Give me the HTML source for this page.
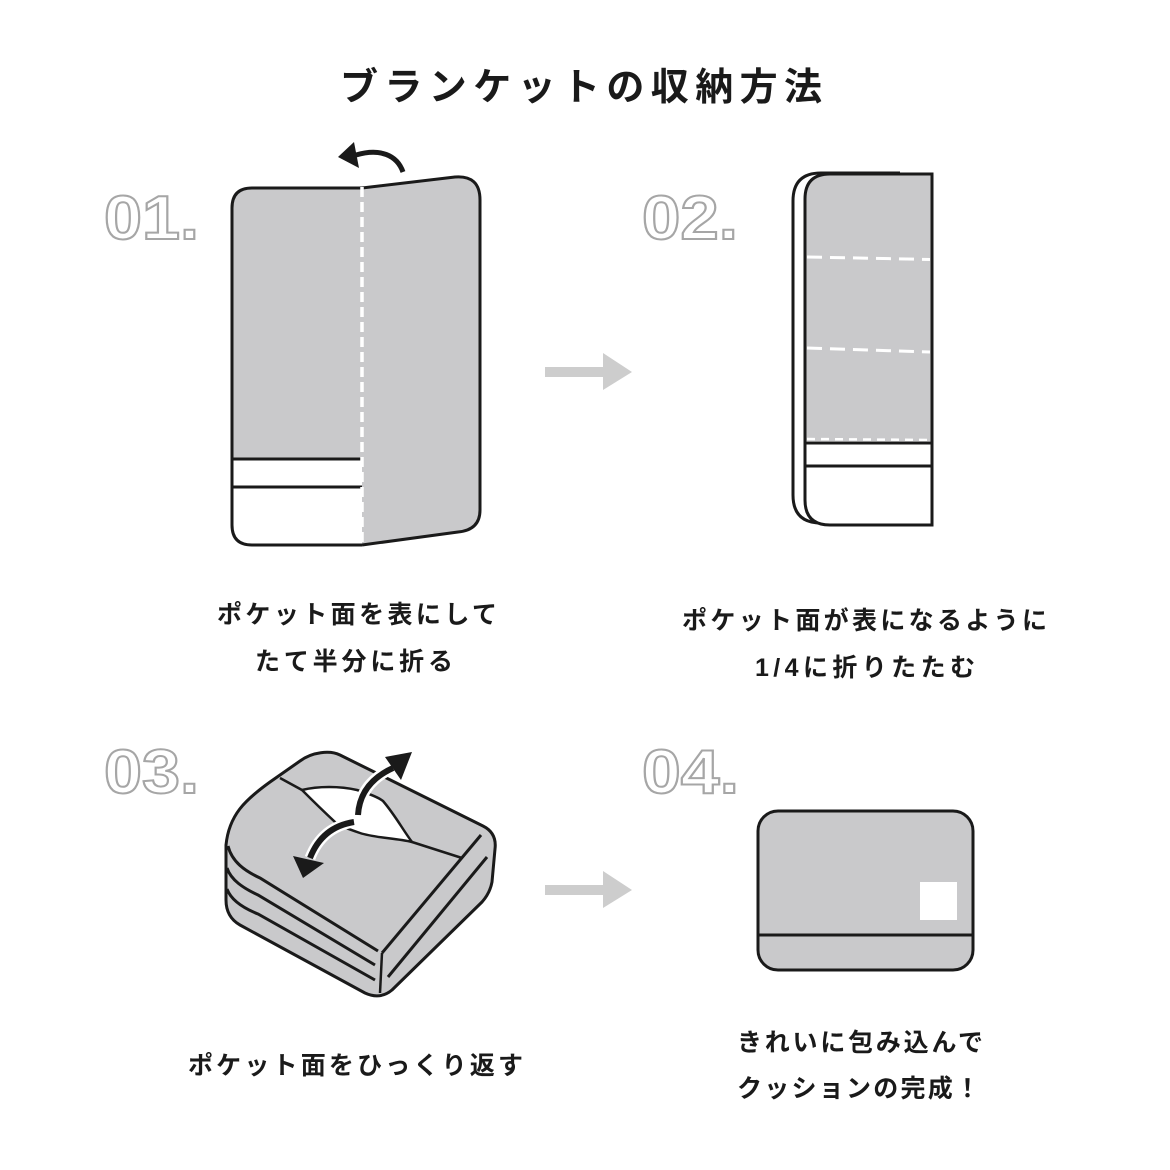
<!DOCTYPE html>
<html>
<head>
<meta charset="utf-8">
<style>
  html, body { margin:0; padding:0; background:#fff; }
  body { width:1170px; height:1170px; overflow:hidden; }
  svg { display:block; }
  .t { font-family: "Liberation Sans", "Noto Sans CJK JP", sans-serif; fill:#1a1a1a; }
  .cap { font-size:25px; font-weight:700; }
  .num { font-family: "Liberation Sans", sans-serif; font-size:62px; font-weight:700; fill:#fff; stroke:#a6a6a6; stroke-width:2; }
</style>
</head>
<body>
<svg width="1170" height="1170" viewBox="0 0 1170 1170" xmlns="http://www.w3.org/2000/svg">
  <!-- Title -->
  <text class="t" x="340" y="100" font-size="38" font-weight="700" textLength="482" lengthAdjust="spacing">ブランケットの収納方法</text>

  <!-- Step numbers -->
  <text class="num" x="104" y="239" textLength="95" lengthAdjust="spacingAndGlyphs">01.</text>
  <text class="num" x="642" y="239" textLength="96" lengthAdjust="spacingAndGlyphs">02.</text>
  <text class="num" x="104" y="793" textLength="95" lengthAdjust="spacingAndGlyphs">03.</text>
  <text class="num" x="642" y="793" textLength="97" lengthAdjust="spacingAndGlyphs">04.</text>

  <!-- ===== STEP 01 ===== -->
  <path d="M362,188 L252,188 Q232,188 232,208 L232,525 Q232,545 252,545 L362,545 Z" fill="#c9c9cb"/>
  <path d="M232,459 L362,459 L362,545 L252,545 Q232,545 232,525 Z" fill="#fff"/>
  <path d="M362,188 L252,188 Q232,188 232,208 L232,525 Q232,545 252,545 L362,545" fill="none" stroke="#1a1a1a" stroke-width="3"/>
  <line x1="232" y1="459" x2="362" y2="459" stroke="#1a1a1a" stroke-width="3"/>
  <line x1="232" y1="487" x2="362" y2="487" stroke="#1a1a1a" stroke-width="3"/>
  <!-- right panel -->
  <path d="M362,188 L455,177 Q480,175 480,200 L480,510 Q480,530 458,532 L362,545 Z" fill="#c9c9cb"/>
  <path d="M362,188 L455,177 Q480,175 480,200 L480,510 Q480,530 458,532 L362,545" fill="none" stroke="#1a1a1a" stroke-width="3" stroke-linejoin="round"/>
  <!-- fold dashed -->
  <line x1="362" y1="187" x2="362" y2="547" stroke="#fff" stroke-width="3.5" stroke-dasharray="10 5"/>
  <!-- curved arrow -->
  <path d="M403,172 C397,155 380,148 356,155" fill="none" stroke="#1a1a1a" stroke-width="5"/>
  <polygon points="338,157 354,142 359,168" fill="#1a1a1a"/>

  <!-- gray arrows -->
  <polygon points="545,367 603,367 603,353 632,372 603,390 603,377 545,377" fill="#cdcdcd"/>
  <polygon points="545,885 603,885 603,871 632,890 603,908 603,895 545,895" fill="#cdcdcd"/>

  <!-- ===== STEP 02 ===== -->
  <path d="M900,173 L821,173 Q793,173 793,201 L793,495 Q793,523 821,523 L900,523" fill="#fff" stroke="#1a1a1a" stroke-width="3"/>
  <path d="M932,174 L830,174 Q805,174 805,199 L805,500 Q805,525 830,525 L932,525 Z" fill="#fff"/>
  <path d="M932,174 L830,174 Q805,174 805,199 L805,441 L932,441 Z" fill="#c9c9cb"/>
  <path d="M932,174 L830,174 Q805,174 805,199 L805,500 Q805,525 830,525 L932,525 Z" fill="none" stroke="#1a1a1a" stroke-width="3"/>
  <line x1="805" y1="443" x2="932" y2="443" stroke="#1a1a1a" stroke-width="3"/>
  <line x1="805" y1="466" x2="932" y2="466" stroke="#1a1a1a" stroke-width="3"/>
  <line x1="807" y1="257" x2="930" y2="259.5" stroke="#fff" stroke-width="3" stroke-dasharray="15 8"/>
  <line x1="807" y1="348" x2="930" y2="352" stroke="#fff" stroke-width="3" stroke-dasharray="15 8"/>
  <line x1="807" y1="439" x2="930" y2="440" stroke="#fff" stroke-width="2.5" stroke-dasharray="8 6"/>

  <!-- ===== STEP 03 ===== -->
  <path d="M300,761 C312,752 330,750 340,755 L483,826 Q497,833 495,849 L492,882 Q490,893 482,902 L392,990 Q380,1000 365,993 L240,925 Q226,917 226,900 L226,845 C229,815 245,800 270,782 Z" fill="#c9c9cb" stroke="#1a1a1a" stroke-width="3" stroke-linejoin="round"/>
  <path d="M228,846 C232,862 245,871 260,878 L378,951" fill="none" stroke="#1a1a1a" stroke-width="3"/>
  <path d="M227,868 C231,880 243,888 258,895 L375,965" fill="none" stroke="#1a1a1a" stroke-width="3"/>
  <path d="M227,889 C231,900 243,908 258,914 L375,980" fill="none" stroke="#1a1a1a" stroke-width="3"/>
  <line x1="382" y1="953" x2="380" y2="993" stroke="#1a1a1a" stroke-width="2.5"/>
  <line x1="382" y1="953" x2="481" y2="835" stroke="#1a1a1a" stroke-width="3"/>
  <line x1="388" y1="977" x2="487" y2="857" stroke="#1a1a1a" stroke-width="3"/>
  <line x1="280" y1="778" x2="302" y2="790" stroke="#1a1a1a" stroke-width="2.5"/>
  <path d="M302,790 C318,786 340,786 357,790 C370,794 378,797 383,801 C395,815 403,830 412,842 C395,838 375,838 360,833 C348,829 340,826 335,822 C320,808 310,798 302,790 Z" fill="#fff" stroke="#1a1a1a" stroke-width="2.5" stroke-linejoin="round"/>
  <line x1="412" y1="842" x2="462" y2="858" stroke="#1a1a1a" stroke-width="2.5"/>
  <path d="M358,815 Q360,783 393,768" fill="none" stroke="#fff" stroke-width="11"/>
  <path d="M358,815 Q360,783 393,768" fill="none" stroke="#1a1a1a" stroke-width="6"/>
  <polygon points="412,752 385,757 401,780" fill="#1a1a1a"/>
  <path d="M354,822 Q322,827 310,858" fill="none" stroke="#fff" stroke-width="11"/>
  <path d="M354,822 Q322,827 310,858" fill="none" stroke="#1a1a1a" stroke-width="6"/>
  <polygon points="303,878 293,856 324,863" fill="#1a1a1a"/>

  <!-- ===== STEP 04 ===== -->
  <rect x="758" y="811" width="215" height="159" rx="20" ry="20" fill="#c9c9cb" stroke="#1a1a1a" stroke-width="3"/>
  <line x1="758" y1="935" x2="973" y2="935" stroke="#1a1a1a" stroke-width="3"/>
  <rect x="920" y="882" width="37" height="38" fill="#fff"/>

  <!-- Captions -->
  <text class="t cap" x="217" y="623" textLength="280" lengthAdjust="spacing">ポケット面を表にして</text>
  <text class="t cap" x="255" y="670" textLength="198" lengthAdjust="spacing">たて半分に折る</text>

  <text class="t cap" x="682" y="629" textLength="365" lengthAdjust="spacing">ポケット面が表になるように</text>
  <text class="t cap" x="755" y="676" textLength="220" lengthAdjust="spacing">1/4に折りたたむ</text>

  <text class="t cap" x="188" y="1074" textLength="335" lengthAdjust="spacing">ポケット面をひっくり返す</text>

  <text class="t cap" x="737" y="1051" textLength="246" lengthAdjust="spacing">きれいに包み込んで</text>
  <text class="t cap" x="737" y="1097" textLength="243" lengthAdjust="spacing">クッションの完成！</text>
</svg>
</body>
</html>
